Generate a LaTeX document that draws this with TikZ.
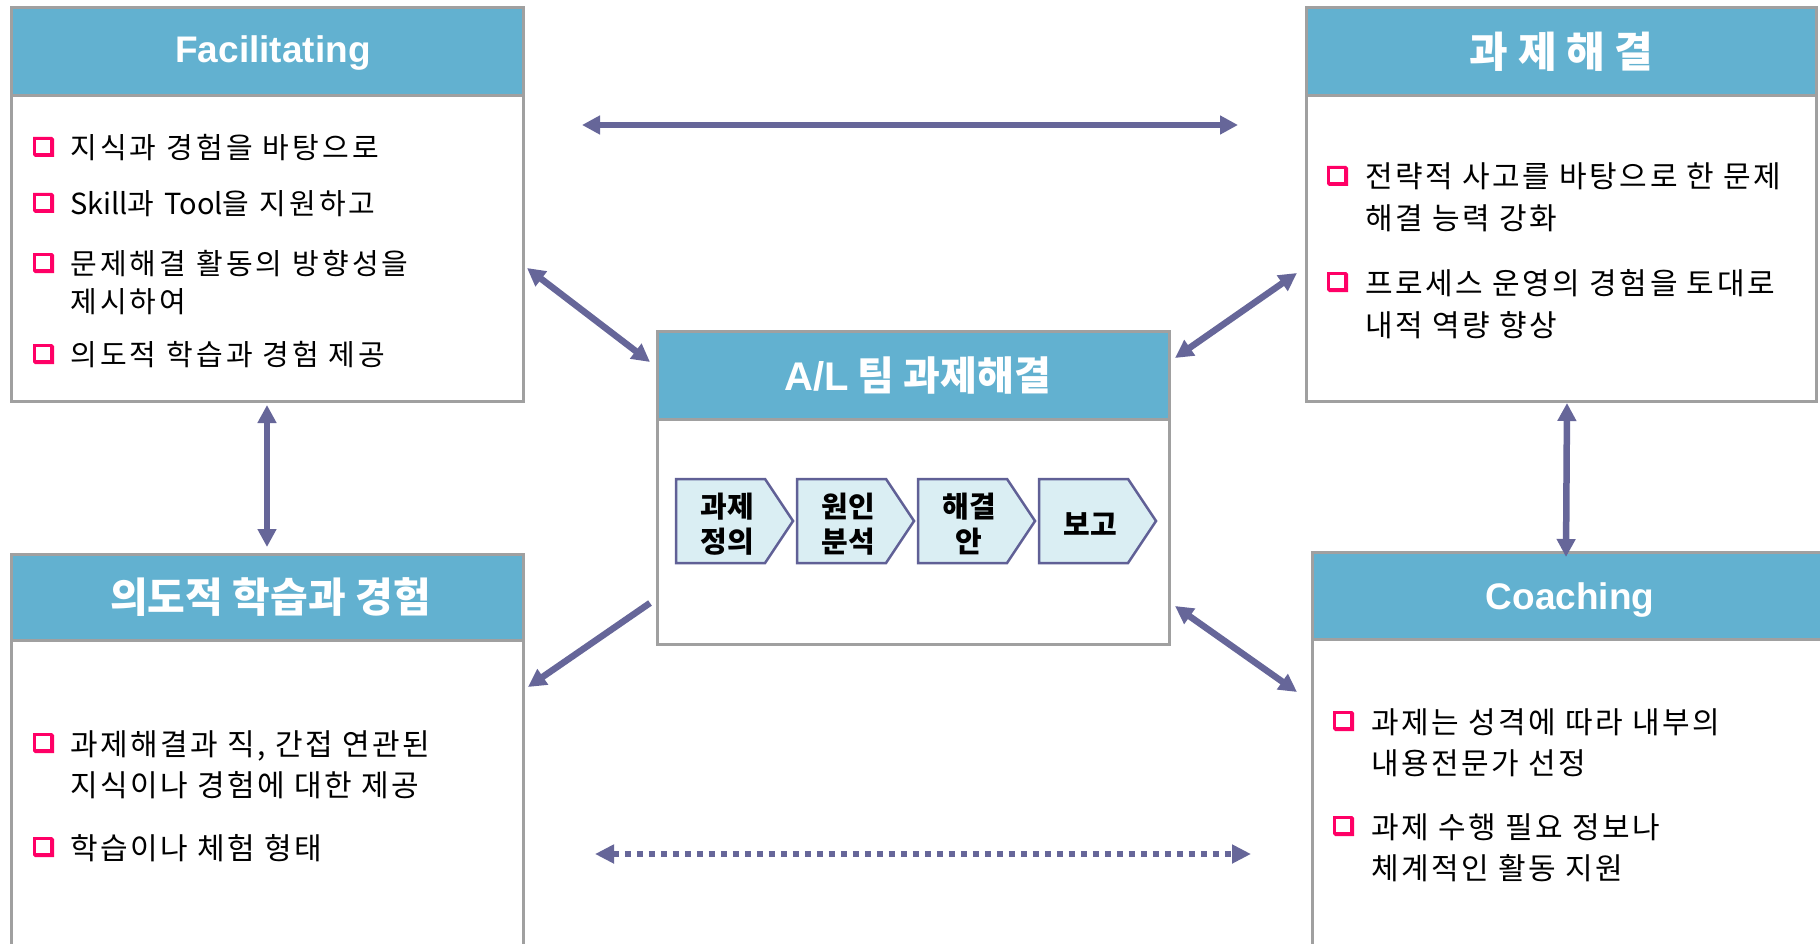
\documentclass[tikz,border=0pt]{standalone}
\usepackage{fontspec}
\usetikzlibrary{arrows.meta}
\setmainfont{Noto Sans CJK KR}
\newfontfamily\kr{Noto Sans CJK KR}
\newfontfamily\kra{Noto Sans CJK KR}[LetterSpace=11]
\newfontfamily\krw{Noto Sans CJK KR}[LetterSpace=8.5]
\newfontfamily\ar{Liberation Sans}
\definecolor{hdrblue}{RGB}{98,177,208}
\definecolor{bordgray}{RGB}{160,160,160}
\definecolor{arrc}{RGB}{102,102,153}
\definecolor{chevfill}{RGB}{218,238,243}
\definecolor{chevline}{RGB}{96,96,150}
\definecolor{bpink}{RGB}{255,0,102}
\tikzset{
  bodybox/.style={draw=bordgray, line width=3pt, fill=white, inner sep=0pt, anchor=north west},
  hdr/.style={draw=bordgray, line width=3pt, fill=hdrblue, inner sep=0pt, anchor=north west, text=white},
  hdrkr/.style={hdr, font=\kr\bfseries\fontsize{#1}{48}\selectfont},
  titlat/.style={anchor=base, inner sep=0pt, text=white, font=\ar\bfseries\fontsize{37}{44}\selectfont},
  itemA/.style={anchor=west, inner sep=0pt, align=left, font=\kra\fontsize{29}{38}\selectfont},
  itemB/.style={anchor=west, inner sep=0pt, align=left, font=\krw\fontsize{30}{41.5}\selectfont},
  chevst/.style={draw=chevline, line width=2.5pt, fill=chevfill, line join=miter},
  chevtxt/.style={inner sep=0pt, align=center, font=\kr\bfseries\fontsize{29}{35}\selectfont},
  arr/.style={draw=arrc, line width=6.5pt},
  dbl/.style={arr, arrows={Triangle[length=18pt,width=18pt]-Triangle[length=18pt,width=18pt]}},
  sgl/.style={arr, arrows={-Triangle[length=18pt,width=18pt]}},
  dotarr/.style={arr, line width=6pt, dash pattern=on 6pt off 6pt, arrows={Triangle[length=19pt,width=18pt]-Triangle[length=19pt,width=18pt]}},
  bul/.pic={
    \fill[bpink] (0,0) -- (19,0) -- (21,2) -- (21,20) -- (2,20) -- (0,18) -- cycle;
    \fill[white] (2.7,2.7) rectangle (17.2,15.7);
  }
}
\begin{document}
\begin{tikzpicture}[x=1pt,y=-1pt]
\useasboundingbox (0,0) rectangle (1820,944);
\fill[white] (0,0) rectangle (1820,944);

% Facilitating box
\node[bodybox, minimum width=512pt, minimum height=394pt] (facB) at (10,6) {};
\node[hdr, minimum width=512pt, minimum height=88pt] (facH) at (10,6) {};
\node[titlat] (facT) at (273,63) {Facilitating};
% Top-right box
\node[bodybox, minimum width=510pt, minimum height=394pt] (solB) at (1305,6) {};
\node[hdrkr=42, minimum width=510pt, minimum height=88pt] (solH) at (1305,6) {과 제 해 결};
% Bottom-left box
\node[bodybox, minimum width=512pt, minimum height=420pt] (learnB) at (10,553) {};
\node[hdrkr=41, minimum width=512pt, minimum height=86pt] (learnH) at (10,553) {\hspace*{6pt}의도적 학습과 경험};
% Coaching box
\node[bodybox, minimum width=520pt, minimum height=420pt] (coachB) at (1311,551) {};
\node[hdr, minimum width=520pt, minimum height=87pt] (coachH) at (1311,551) {};
\node[titlat] (coachT) at (1570,609) {Coaching};
% Center box
\node[bodybox, minimum width=512pt, minimum height=313pt] (alB) at (656,330) {};
\node[hdrkr=40, minimum width=512pt, minimum height=88pt] (alH) at (656,330) {\hspace*{8pt}{\ar A/L} 팀 과제해결};

% chevrons
\foreach \x/\n/\t in {676/ch1/{과제\\정의}, 797/ch2/{원인\\분석}, 918/ch3/{해결\\안}, 1039/ch4/{보고}} {
  \draw[chevst] (\x,479) -- ++(89,0) -- ++(28,42) -- ++(-28,42) -- ++(-89,0) -- cycle;
  \node[chevtxt] (\n) at (\x+51,524) {\t};
}

% Facilitating items
\node[itemA] (f1) at (70,148) {지식과 경험을 바탕으로};
\node[itemA] (f2) at (70,204) {{\kr Skill}과 {\kr Tool}을 지원하고};
\node[itemA] (f3) at (70,283) {문제해결 활동의 방향성을\\제시하여};
\node[itemA] (f4) at (70,355) {의도적 학습과 경험 제공};
\pic at (33,137) {bul};
\pic at (33,193) {bul};
\pic at (33,253) {bul};
\pic at (33,344) {bul};

% Top-right items
\node[itemB] (r1) at (1365,197.5) {전략적 사고를 바탕으로 한 문제\\해결 능력 강화};
\node[itemB] (r2) at (1365,304) {프로세스 운영의 경험을 토대로\\내적 역량 향상};
\pic at (1327,166) {bul};
\pic at (1327,272) {bul};

% Bottom-left items
\node[itemB] (l1) at (70,765) {과제해결과 직, 간접 연관된\\지식이나 경험에 대한 제공};
\node[itemB] (l2) at (70,848) {학습이나 체험 형태};
\pic at (33,733) {bul};
\pic at (33,837) {bul};

% Coaching items
\node[itemB] (c1) at (1371,742.5) {과제는 성격에 따라 내부의\\내용전문가 선정};
\node[itemB] (c2) at (1371,848) {과제 수행 필요 정보나\\체계적인 활동 지원};
\pic at (1333,711) {bul};
\pic at (1333,816) {bul};

% connector end points
\coordinate (topL) at (582,125);
\coordinate (topR) at (1238,125);
\coordinate (botL) at (595,854);
\coordinate (botR) at (1251,854);
\coordinate (vL1) at (267,405);
\coordinate (vL2) at (267,547);
\coordinate (vR1) at (1567,403);
\coordinate (vR2) at (1566,557);
\coordinate (d1a) at (527,268);
\coordinate (d1b) at (650,362);
\coordinate (d2a) at (1175,358);
\coordinate (d2b) at (1297,273);
\coordinate (d3a) at (650,603);
\coordinate (d3b) at (528,687);
\coordinate (d4a) at (1175,606);
\coordinate (d4b) at (1297,692);

\draw[dbl] (topL) -- (topR);
\draw[dotarr] (botL) -- (botR);
\draw[dbl] (vL1) -- (vL2);
\draw[dbl] (vR1) -- (vR2);
\draw[dbl] (d1a) -- (d1b);
\draw[dbl] (d2a) -- (d2b);
\draw[sgl] (d3a) -- (d3b);
\draw[dbl] (d4a) -- (d4b);
\end{tikzpicture}
\end{document}
